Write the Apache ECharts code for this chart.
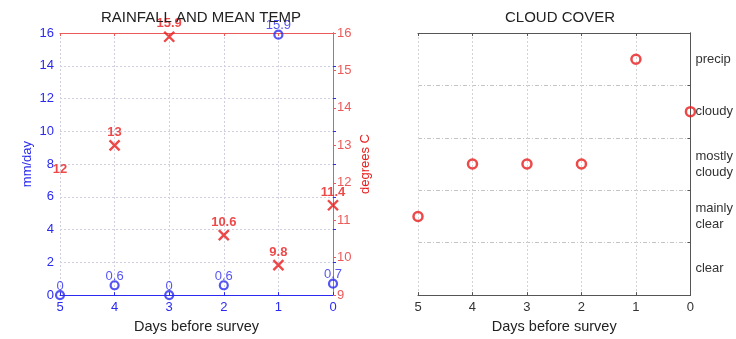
<!DOCTYPE html>
<html>
<head>
<meta charset="utf-8">
<style>
  html, body { margin: 0; padding: 0; background: #fff; }
  #chart { width: 736px; height: 339px; }
</style>
<script src="https://cdn.jsdelivr.net/npm/echarts@6/dist/echarts.min.js"></script>
</head>
<body>
<div id="chart"></div>
<script>
// Days before the survey (x axis, read right-to-left)
const days = [5, 4, 3, 2, 1, 0];
// Rainfall, mm/day
const rainfall = [0, 0.6, 0, 0.6, 15.9, 0.7];
// Mean temperature, degrees C
const meanTemp = [12, 13, 15.9, 10.6, 9.8, 11.4];
// Cloud cover categories, bottom to top
const cloudLevels = ['clear', 'mainly\nclear', 'mostly\ncloudy', 'cloudy', 'precip'];
// Cloud cover observed each day
const cloudCover = ['mainly\nclear', 'mostly\ncloudy', 'mostly\ncloudy', 'mostly\ncloudy', 'precip', 'cloudy'];

const BLUE = '#2a2af0';
const RED = '#e81c1c';
const RED_AXIS = '#ec5a5a';
const GRAY = '#555';
const GRID = '#cfcfdf';
const FONT = '"Liberation Sans", Arial, sans-serif';

const chart = echarts.init(document.getElementById('chart'), null, { renderer: 'canvas' });

const dottedSplit = { show: true, lineStyle: { color: GRID, type: [2, 2], width: 1 } };

const option = {
  backgroundColor: '#fff',
  textStyle: { fontFamily: FONT },
  animation: false,
  title: [
    { text: 'RAINFALL AND MEAN TEMP', left: 196, top: 5, textAlign: 'center',
      textStyle: { fontSize: 15, fontWeight: 'normal', color: '#222', fontFamily: FONT } },
    { text: 'CLOUD COVER', left: 555, top: 5, textAlign: 'center',
      textStyle: { fontSize: 15, fontWeight: 'normal', color: '#222', fontFamily: FONT } }
  ],
  grid: [
    { left: 60, right: 403, top: 33, bottom: 39 },
    { left: 418, right: 44, top: 33, bottom: 39 }
  ],
  xAxis: [
    { // rainfall/temperature days axis
      gridIndex: 0, type: 'value', min: 0, max: 5, interval: 1, inverse: true,
      position: 'bottom',
      name: 'Days before survey', nameLocation: 'middle', nameGap: 22,
      nameTextStyle: { color: '#222', fontSize: 14.5, fontFamily: FONT },
      axisLine: { show: true, lineStyle: { color: BLUE, width: 1 } },
      axisTick: { show: true, inside: true, length: 3, lineStyle: { color: BLUE } },
      axisLabel: { color: BLUE, fontSize: 13, margin: 6, fontFamily: FONT },
      splitLine: dottedSplit
    },
    { // top frame edge of the temperature axes
      gridIndex: 0, type: 'value', min: 0, max: 5, interval: 1, inverse: true,
      position: 'top',
      axisLine: { show: true, lineStyle: { color: RED_AXIS, width: 1 } },
      axisTick: { show: true, inside: true, length: 3, lineStyle: { color: RED_AXIS } },
      axisLabel: { show: false }, splitLine: { show: false }
    },
    { // cloud cover days axis
      gridIndex: 1, type: 'value', min: 0, max: 5, interval: 1, inverse: true,
      position: 'bottom',
      name: 'Days before survey', nameLocation: 'middle', nameGap: 22,
      nameTextStyle: { color: '#222', fontSize: 14.5, fontFamily: FONT },
      axisLine: { show: true, lineStyle: { color: GRAY, width: 1 } },
      axisTick: { show: true, inside: true, length: 3, lineStyle: { color: GRAY } },
      axisLabel: { color: '#333', fontSize: 13, margin: 6, fontFamily: FONT },
      splitLine: { show: true, lineStyle: { color: '#d4d4d4', type: [2, 2] } }
    },
    { // top frame edge of the cloud cover axes
      gridIndex: 1, type: 'value', min: 0, max: 5, interval: 1, inverse: true,
      position: 'top',
      axisLine: { show: true, lineStyle: { color: GRAY, width: 1 } },
      axisTick: { show: true, inside: true, length: 3, lineStyle: { color: GRAY } },
      axisLabel: { show: false }, splitLine: { show: false }
    }
  ],
  yAxis: [
    { // rainfall
      gridIndex: 0, type: 'value', min: 0, max: 16, interval: 2, position: 'left',
      name: 'mm/day', nameLocation: 'middle', nameGap: 26, nameRotate: 90,
      nameTextStyle: { color: BLUE, fontSize: 13, fontFamily: FONT },
      axisLine: { show: true, lineStyle: { color: BLUE, width: 1 } },
      axisTick: { show: true, inside: true, length: 3, lineStyle: { color: BLUE } },
      axisLabel: { color: BLUE, fontSize: 13, margin: 6, fontFamily: FONT },
      splitLine: dottedSplit
    },
    { // mean temperature
      gridIndex: 0, type: 'value', min: 9, max: 16, interval: 1, position: 'right',
      name: 'degrees C', nameLocation: 'middle', nameGap: 26, nameRotate: 90,
      nameTextStyle: { color: RED, fontSize: 13, fontFamily: FONT },
      axisLine: { show: true, lineStyle: { color: RED_AXIS, width: 1 } },
      axisTick: { show: true, inside: false, length: 3, lineStyle: { color: RED_AXIS } },
      axisLabel: { color: RED_AXIS, fontSize: 13, margin: 4, fontFamily: FONT },
      splitLine: { show: false }
    },
    { // cloud cover categories
      gridIndex: 1, type: 'category', data: cloudLevels, boundaryGap: true, position: 'right',
      axisLine: { show: true, lineStyle: { color: GRAY, width: 1 } },
      axisTick: { show: true, inside: true, length: 3, lineStyle: { color: GRAY } },
      axisLabel: { color: '#333', fontSize: 13, margin: 5, lineHeight: 16, align: 'left', fontFamily: FONT },
      splitLine: { show: true, lineStyle: { color: '#c4c4c4', type: [4, 2, 1, 2] } }
    },
    { // left frame edge of the cloud cover axes
      gridIndex: 1, type: 'value', min: 0, max: 5, interval: 1, position: 'left',
      axisLine: { show: true, lineStyle: { color: GRAY, width: 1 } },
      axisTick: { show: false }, axisLabel: { show: false }, splitLine: { show: false }
    }
  ],
  series: [
    {
      name: 'rainfall', type: 'scatter', xAxisIndex: 0, yAxisIndex: 0, clip: false,
      data: days.map((d, i) => [d, rainfall[i]]),
      symbol: 'circle', symbolSize: 8,
      itemStyle: { color: 'transparent', borderColor: BLUE, borderWidth: 2.2 },
      label: {
        show: true, position: 'inside', offset: [0, -9],
        formatter: p => String(p.value[1]),
        color: BLUE, fontSize: 13, fontFamily: FONT
      },
      z: 4
    },
    {
      name: 'mean temperature', type: 'scatter', xAxisIndex: 0, yAxisIndex: 1, clip: false,
      data: days.map((d, i) => [d, meanTemp[i]]),
      symbol: 'path://M0,0L10,10M10,0L0,10',
      // the marker on the left frame edge is hidden behind the axis
      symbolSize: (val, p) => (p.dataIndex === 0 ? 0 : 10),
      itemStyle: { color: 'transparent', borderColor: RED, borderWidth: 2.4 },
      label: {
        show: true, position: 'inside', offset: [0, -13],
        formatter: p => String(p.value[1]),
        color: RED, fontSize: 13, fontWeight: 'bold', fontFamily: FONT
      },
      z: 4
    },
    {
      name: 'cloud cover', type: 'scatter', xAxisIndex: 2, yAxisIndex: 2, clip: false,
      data: days.map((d, i) => [d, cloudCover[i]]),
      symbol: 'circle', symbolSize: 9,
      itemStyle: { color: 'transparent', borderColor: RED, borderWidth: 2.5 },
      z: 4
    }
  ]
};

chart.setOption(option);
</script>
</body>
</html>
